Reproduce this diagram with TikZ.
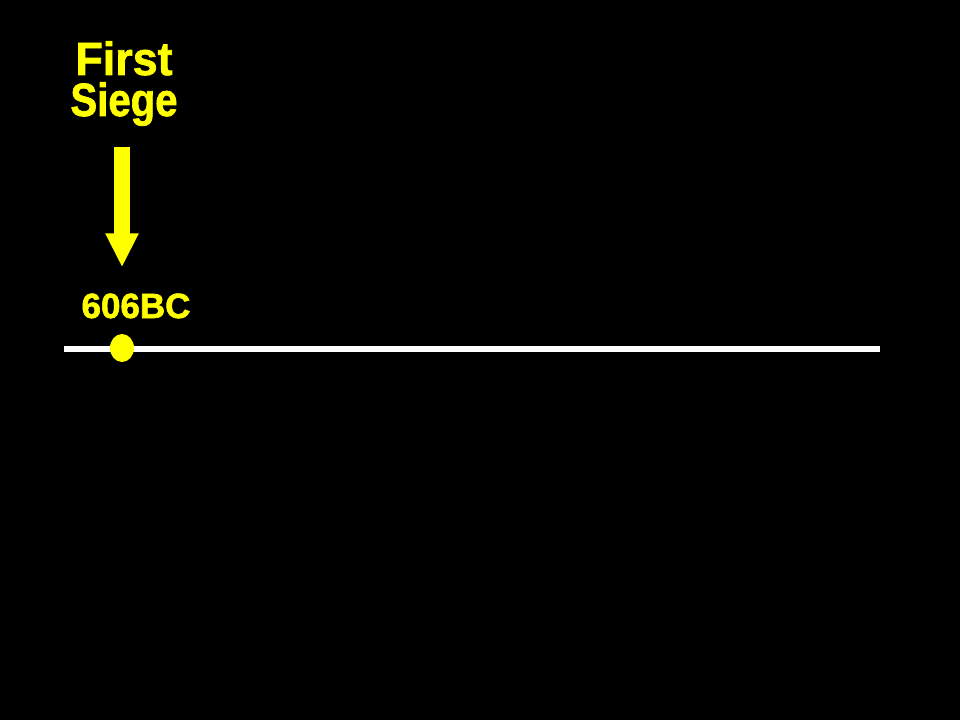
\documentclass[tikz,border=0pt]{standalone}
\usepackage{fontspec}
\setmainfont{Liberation Sans}[BoldFeatures={FakeBold=1.6}]
\usetikzlibrary{arrows.meta,shapes.geometric}
\definecolor{hiyellow}{RGB}{255,255,0}
\tikzstyle{headline}=[text=hiyellow,anchor=base,align=center,inner sep=0pt,font=\fontsize{35}{30.75}\selectfont\bfseries]
\tikzstyle{yeartext}=[text=hiyellow,anchor=base,inner sep=0pt,font=\fontsize{26.25}{26.25}\selectfont\bfseries]
\tikzstyle{yeardot}=[ellipse,fill=hiyellow,inner sep=0pt,minimum width=18pt,minimum height=21pt]
\tikzstyle{timeline}=[white,line width=4.9pt]
\tikzstyle{bigarrow}=[hiyellow,line width=12pt,-{Triangle[length=25.5pt,width=23.25pt]}]

\begin{document}
\begin{tikzpicture}[x=0.75pt,y=-0.75pt]
\fill[black] (0,0) rectangle (960,720);
\node[headline] (T) at (124,116) {\scalebox{0.96}[1]{First}\\\scalebox{0.86}[1]{Siege}};
\node[yeartext] (Y) at (136,318) {606BC};
\coordinate (L) at (64,349);
\coordinate (R) at (880,349);
\draw[timeline] (L) -- (R);
\node[yeardot] (D) at (122,348) {};
\draw[bigarrow,shorten <=15.5pt,shorten >=19.5pt] (T.south -| D) -- (Y.north -| D);
\end{tikzpicture}
\end{document}
